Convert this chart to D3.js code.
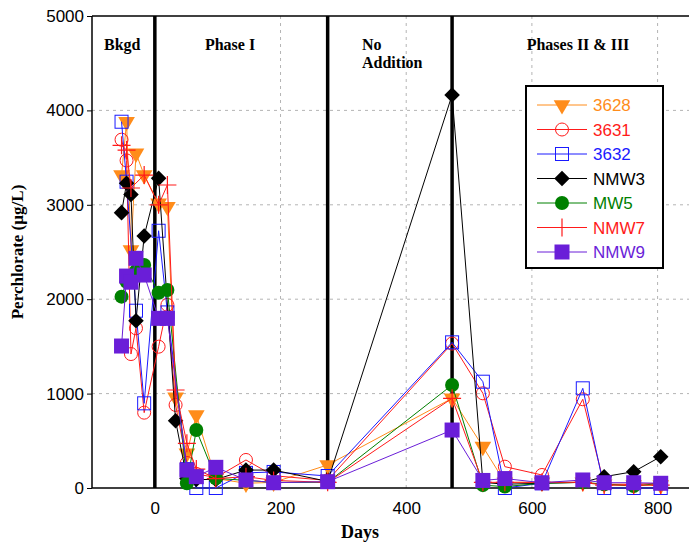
<!DOCTYPE html>
<html>
<head>
<meta charset="utf-8">
<script src="https://cdn.jsdelivr.net/npm/d3@7"></script>
<style>
  body { margin: 0; background: #fff; }
  .tick text { font-family: "Liberation Sans", Arial, sans-serif; font-size: 17px; }
  .lbl { font-family: "Liberation Serif", "Times New Roman", serif; font-weight: bold; }
</style>
</head>
<body>
<svg width="689" height="542"></svg>
<script>
// sampling days (shared by all wells)
var days = [-53, -45, -38, -30, -17, 6, 20, 33, 51, 66, 97, 145, 189, 275, 473, 522, 557, 616, 681, 715, 762, 805];

// perchlorate, ug/L (null = not sampled / not readable)
var w3628 = [3315, 3880, 2520, 3545, 3315, 3015, 2980, 960, 367, 773, 100, 50, 60, 244, 950, 438, 60, 60, 60, 40, 30, 30];
var w3631 = [3690, 3470, 1419, 1692, 798, 1497, 1940, 880, 265, 150, 110, 297, 130, 80, 1530, 1003, 226, 138, 940, 40, 40, 50];
var w3632 = [3880, 3245, null, 1878, 897, 2725, 1860, null, 200, 0, 0, 160, 170, 127, 1543, 1126, 0, 50, 1056, 0, 0, 0];
var nmw3  = [2917, 3228, 3110, 1772, 2670, 3280, null, 713, 100, 90, 90, 190, 190, 70, 4163, 60, 40, 50, 60, 120, 173, 332];
var mw5   = [2027, 2185, null, 2300, 2362, 2069, 2097, null, 50, 614, 103, 80, 60, 60, 1091, 30, 15, 50, 60, 40, 20, 50];
var nmw7  = [3630, 3580, 3178, null, 3315, 3000, 3210, 1038, 473, 200, 100, 120, 80, 60, 950, 60, 60, 60, 60, 30, 30, 30];
var nmw9  = [1504, 2245, 2180, 2433, 2256, 1797, 1797, null, 190, 120, 219, 85, 56, 67, 614, 80, 100, 56, 85, 56, 56, 50];

var yTicks = [0, 1000, 2000, 3000, 4000, 5000];
var xTicks = [0, 200, 400, 600, 800];
var phaseBreaks = [0, 275, 473];

var series = [
  {name: "3628", vals: w3628, color: "#ff8c1a", shape: "tri"},
  {name: "3631", vals: w3631, color: "#ff1a1a", shape: "ocircle"},
  {name: "3632", vals: w3632, color: "#1a1aff", shape: "osquare"},
  {name: "NMW3", vals: nmw3, color: "#000000", shape: "diamond"},
  {name: "MW5", vals: mw5, color: "#008000", shape: "circle"},
  {name: "NMW7", vals: nmw7, color: "#ff1a1a", shape: "plus"},
  {name: "NMW9", vals: nmw9, color: "#6a1ed8", shape: "square"}
];

var svg = d3.select("svg");
var x = d3.scaleLinear().domain([-100, 850]).range([92, 689]);
var y = d3.scaleLinear().domain([0, 5000]).range([488, 16]);

// grid
svg.append("g").selectAll("line").data([1000, 2000, 3000, 4000]).enter().append("line")
    .attr("x1", 92).attr("x2", 689)
    .attr("y1", function(d) { return y(d); }).attr("y2", function(d) { return y(d); })
    .attr("stroke", "#b4b4b4").attr("stroke-dasharray", "3,4");
svg.append("g").selectAll("line").data([200, 400, 600, 800]).enter().append("line")
    .attr("x1", function(d) { return x(d); }).attr("x2", function(d) { return x(d); })
    .attr("y1", 16).attr("y2", 488)
    .attr("stroke", "#b4b4b4").attr("stroke-dasharray", "3,4");

// axes
var yAxis = svg.append("g").attr("transform", "translate(92,0)")
    .call(d3.axisLeft(y).tickValues(yTicks).tickFormat(d3.format("d")).tickSize(5).tickPadding(3));
var xAxis = svg.append("g").attr("transform", "translate(0,488)")
    .call(d3.axisBottom(x).tickValues(xTicks).tickFormat(d3.format("d")).tickSize(0).tickPadding(14));
svg.selectAll(".domain").attr("stroke", "#000").attr("stroke-width", 1.5);
xAxis.select(".domain").attr("d", "M92,0H689");
yAxis.select(".domain").attr("d", "M0,16V488");
svg.append("line").attr("x1", 92).attr("x2", 689).attr("y1", 16).attr("y2", 16)
    .attr("stroke", "#000").attr("stroke-width", 1.5);

// phase boundaries
svg.append("g").selectAll("line").data(phaseBreaks).enter().append("line")
    .attr("x1", function(d) { return x(d); }).attr("x2", function(d) { return x(d); })
    .attr("y1", 16).attr("y2", 488)
    .attr("stroke", "#000").attr("stroke-width", 3.5);

// phase labels
var phases = [
  {t: ["Bkgd"], x: 104, a: "start"},
  {t: ["Phase I"], x: 230, a: "middle"},
  {t: ["No", "Addition"], x: 362, a: "start"},
  {t: ["Phases II & III"], x: 578, a: "middle"}
];
phases.forEach(function(p) {
  p.t.forEach(function(s, i) {
    svg.append("text").attr("class", "lbl").attr("x", p.x).attr("y", 50 + i * 18)
        .attr("text-anchor", p.a).attr("font-size", 16).text(s);
  });
});

function marker(g, shape, color) {
  if (shape == "tri") {
    g.append("path").attr("d", d3.symbol().type(d3.symbolTriangle).size(120)())
        .attr("transform", "rotate(180)").attr("fill", color);
  } else if (shape == "ocircle") {
    g.append("circle").attr("r", 6.5).attr("fill", "none").attr("stroke", color);
  } else if (shape == "circle") {
    g.append("circle").attr("r", 7).attr("fill", color);
  } else if (shape == "osquare") {
    g.append("rect").attr("x", -6.5).attr("y", -6.5).attr("width", 13).attr("height", 13)
        .attr("fill", "none").attr("stroke", color);
  } else if (shape == "square") {
    g.append("rect").attr("x", -7.5).attr("y", -7.5).attr("width", 15).attr("height", 15)
        .attr("fill", color);
  } else if (shape == "diamond") {
    g.append("rect").attr("x", -5.5).attr("y", -5.5).attr("width", 11).attr("height", 11)
        .attr("transform", "rotate(45)").attr("fill", color);
  } else if (shape == "plus") {
    g.append("path").attr("d", "M-9,0H9M0,-9V9").attr("stroke", color).attr("stroke-width", 1.2);
  }
}

var line = d3.line().x(function(d) { return x(d[0]); }).y(function(d) { return y(d[1]); });

series.forEach(function(s) {
  var pts = days.map(function(d, i) { return [d, s.vals[i]]; })
      .filter(function(p) { return p[1] != null; });
  var g = svg.append("g");
  g.append("path").datum(pts).attr("d", line)
      .attr("fill", "none").attr("stroke", s.color).attr("stroke-width", 1);
  g.selectAll("g").data(pts).enter().append("g")
      .attr("transform", function(d) { return "translate(" + x(d[0]) + "," + y(d[1]) + ")"; })
      .each(function() { marker(d3.select(this), s.shape, s.color); });
});

// legend
var leg = svg.append("g");
leg.append("rect").attr("x", 526).attr("y", 86).attr("width", 137).attr("height", 182)
    .attr("fill", "#fff").attr("stroke", "#000").attr("stroke-width", 2);
series.forEach(function(s, i) {
  var ly = 105 + i * 24.5;
  leg.append("line").attr("x1", 537).attr("x2", 587).attr("y1", ly).attr("y2", ly)
      .attr("stroke", s.color).attr("stroke-width", 1);
  var m = leg.append("g").attr("transform", "translate(562," + ly + ")");
  marker(m, s.shape, s.color);
  leg.append("text").attr("x", 593).attr("y", ly + 6)
      .attr("font-family", "Liberation Sans, Arial, sans-serif").attr("font-size", 17)
      .attr("fill", s.color).text(s.name);
});

// axis titles
svg.append("text").attr("class", "lbl").attr("x", 360).attr("y", 538)
    .attr("text-anchor", "middle").attr("font-size", 18).text("Days");
svg.append("text").attr("class", "lbl")
    .attr("transform", "translate(23,252) rotate(-90)")
    .attr("text-anchor", "middle").attr("font-size", 17).text("Perchlorate (µg/L)");
</script>
</body>
</html>
